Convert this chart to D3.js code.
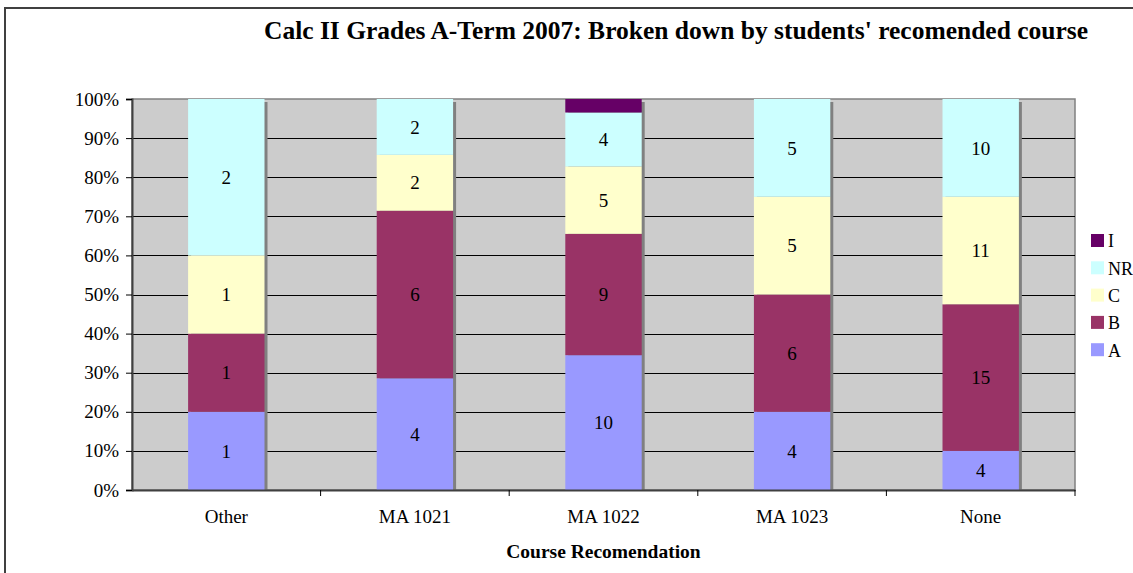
<!DOCTYPE html>
<html>
<head>
<meta charset="utf-8">
<script src="https://cdn.jsdelivr.net/npm/d3@7"></script>
<style>
  body { margin: 0; background: #fff; }
  svg { display: block; font-family: "Liberation Serif", "Times New Roman", serif; }
</style>
</head>
<body>
<div id="chart"></div>
<script>
var categories = ["Other", "MA 1021", "MA 1022", "MA 1023", "None"];
var grades = ["A", "B", "C", "NR", "I"];
var countA  = [1, 4, 10, 4, 4];
var countB  = [1, 6, 9, 6, 15];
var countC  = [1, 2, 5, 5, 11];
var countNR = [2, 2, 4, 5, 10];
var countI  = [0, 0, 1, 0, 0];
var yTicks = [0, 0.1, 0.2, 0.3, 0.4, 0.5, 0.6, 0.7, 0.8, 0.9, 1];
var colors = { A: "#9999FF", B: "#993366", C: "#FFFFCC", NR: "#CCFFFF", I: "#660066" };

var W = 1133, H = 573;
var plot = { left: 132, right: 1075, top: 99, bottom: 490 };
var serif = "Liberation Serif, Times New Roman, serif";

var svg = d3.select("#chart").append("svg").attr("width", W).attr("height", H);

// chart border
svg.append("rect").attr("x", 5).attr("y", 8).attr("width", W + 10).attr("height", H + 10)
  .attr("fill", "#fff").attr("stroke", "#404040").attr("stroke-width", 2);

var rows = categories.map(function (c, i) {
  return { cat: c, A: countA[i], B: countB[i], C: countC[i], NR: countNR[i], I: countI[i] };
});
var stacked = d3.stack().keys(grades).offset(d3.stackOffsetExpand)(rows);

var x = d3.scaleBand().domain(categories).range([plot.left, plot.right]).paddingInner(0).paddingOuter(0);
var y = d3.scaleLinear().domain([0, 1]).range([plot.bottom, plot.top]);
var barW = x.bandwidth() * 0.405;

// plot background
svg.append("rect").attr("x", plot.left).attr("y", plot.top)
  .attr("width", plot.right - plot.left).attr("height", plot.bottom - plot.top)
  .attr("fill", "#CCCCCC").attr("stroke", "#808080").attr("stroke-width", 1.5);

// gridlines
svg.append("g").selectAll("line").data(yTicks.slice(1, -1)).enter().append("line")
  .attr("x1", plot.left).attr("x2", plot.right)
  .attr("y1", function (d) { return Math.round(y(d)) + 0.5; })
  .attr("y2", function (d) { return Math.round(y(d)) + 0.5; })
  .attr("stroke", "#000").attr("stroke-width", 1);

// shadows
svg.append("g").selectAll("rect").data(rows).enter().append("rect")
  .attr("x", function (d) { return x(d.cat) + (x.bandwidth() - barW) / 2 + 3; })
  .attr("y", y(1) + 3)
  .attr("width", barW)
  .attr("height", y(0) - y(1) - 3)
  .attr("fill", "#808080");

// bars
var layer = svg.append("g").selectAll("g").data(stacked).enter().append("g")
  .attr("fill", function (s) { return colors[s.key]; });
layer.selectAll("rect").data(function (s) { return s; }).enter().append("rect")
  .attr("x", function (d) { return x(d.data.cat) + (x.bandwidth() - barW) / 2; })
  .attr("y", function (d) { return y(d[1]); })
  .attr("width", barW)
  .attr("height", function (d) { return y(d[0]) - y(d[1]); });

// value labels
stacked.forEach(function (s) {
  if (s.key === "I") return;
  svg.append("g").selectAll("text").data(s).enter().append("text")
    .attr("x", function (d) { return x(d.data.cat) + x.bandwidth() / 2; })
    .attr("y", function (d) { return (y(d[0]) + y(d[1])) / 2; })
    .attr("dy", "0.35em")
    .attr("text-anchor", "middle")
    .attr("font-size", 19)
    .text(function (d) { return d.data[s.key]; });
});

// y axis
var yAxis = svg.append("g").attr("transform", "translate(" + plot.left + ",0)")
  .call(d3.axisLeft(y).tickValues(yTicks).tickSize(6).tickPadding(7).tickFormat(d3.format(".0%")));
yAxis.select(".domain").attr("stroke", "#404040").attr("stroke-width", 2);
yAxis.selectAll(".tick line").attr("stroke", "#000");
yAxis.selectAll(".tick text").attr("font-size", 19).attr("font-family", serif).attr("fill", "#000");

// x axis
var xAxis = svg.append("g").attr("transform", "translate(0," + plot.bottom + ")")
  .call(d3.axisBottom(x).tickSize(0).tickPadding(20));
xAxis.select(".domain").attr("stroke", "#404040").attr("stroke-width", 2);
xAxis.selectAll(".tick text").attr("font-size", 19).attr("font-family", serif).attr("fill", "#000");
svg.append("g").selectAll("line").data(categories.slice(1).concat(["end"])).enter().append("line")
  .attr("x1", function (d) { return d === "end" ? plot.right : x(d); })
  .attr("x2", function (d) { return d === "end" ? plot.right : x(d); })
  .attr("y1", plot.bottom).attr("y2", plot.bottom + 6)
  .attr("stroke", "#000");

// titles
svg.append("text").attr("x", 676).attr("y", 39).attr("text-anchor", "middle")
  .attr("font-size", 25.5).attr("font-weight", "bold")
  .text("Calc II Grades A-Term 2007: Broken down by students' recomended course");
svg.append("text").attr("x", (plot.left + plot.right) / 2).attr("y", 558).attr("text-anchor", "middle")
  .attr("font-size", 19.5).attr("font-weight", "bold")
  .text("Course Recomendation");

// legend
var legendKeys = grades.slice().reverse();
var lg = svg.append("g").selectAll("g").data(legendKeys).enter().append("g")
  .attr("transform", function (d, i) { return "translate(1091," + (234 + i * 27.3) + ")"; });
lg.append("rect").attr("width", 13).attr("height", 13)
  .attr("fill", function (d) { return colors[d]; });
lg.append("text").attr("x", 17).attr("y", 7).attr("dy", "0.35em").attr("font-size", 18)
  .text(function (d) { return d; });
</script>
</body>
</html>
